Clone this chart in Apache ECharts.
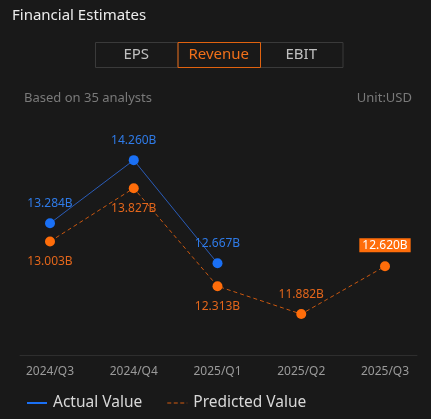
<!DOCTYPE html>
<html>
<head>
<meta charset="utf-8">
<script src="https://cdn.jsdelivr.net/npm/echarts@6/dist/echarts.min.js"></script>
<style>
  html, body { margin: 0; padding: 0; background: #191919; }
  #chart { width: 431px; height: 419px; }
</style>
</head>
<body>
<div id="chart"></div>
<script>
// data
const quarters = ['2024/Q3', '2024/Q4', '2025/Q1', '2025/Q2', '2025/Q3']
const actualValues = [13.284, 14.260, 12.667, null, null]
const predictedValues = [13.003, 13.827, 12.313, 11.882, 12.620]
const tabs = ['EPS', 'Revenue', 'EBIT']

// label placement for predicted points
const predictedLabelPos = ['bottom', 'bottom', 'bottom', 'top', 'top']

const fontFamily = '"Noto Sans", sans-serif'
const blue = '#1a70f5'
const orange = '#ff6d0a'

const fmt = (p) => p.value.toFixed(3) + 'B'

const predictedData = predictedValues.map((v, i) => {
  const item = { value: v, label: { position: predictedLabelPos[i] } }
  if (i === predictedValues.length - 1) {
    item.label.color = '#fff'
    item.label.backgroundColor = orange
    item.label.padding = [1, 3, 1, 3]
  }
  return item
})

// tab buttons
const tabGraphics = []
tabs.forEach((t, i) => {
  const active = t === 'Revenue'
  tabGraphics.push({
    type: 'rect',
    left: 95 + i * 82.5,
    top: 42,
    shape: { width: 82.5, height: 25 },
    style: { fill: 'transparent', stroke: active ? '#e0620f' : '#3a3a3a', lineWidth: 1 },
    z: active ? 11 : 10
  })
  tabGraphics.push({
    type: 'text',
    x: 95 + i * 82.5 + 41.25,
    y: 54.5,
    style: {
      text: t,
      fill: active ? '#f0701a' : '#c0c0c0',
      font: '15px ' + fontFamily,
      align: 'center',
      verticalAlign: 'middle'
    },
    z: 12
  })
})

const chart = echarts.init(document.getElementById('chart'))
chart.setOption({
  backgroundColor: '#191919',
  title: [
    { text: 'Financial Estimates', left: 7, top: 3,
      textStyle: { color: '#ececec', fontSize: 15, fontWeight: 'normal', fontFamily } },
    { text: 'Based on 35 analysts', left: 19, top: 87,
      textStyle: { color: '#7a7a7a', fontSize: 13, fontWeight: 'normal', fontFamily } },
    { text: 'Unit:USD', right: 14, top: 87,
      textStyle: { color: '#7a7a7a', fontSize: 13, fontWeight: 'normal', fontFamily } }
  ],
  graphic: tabGraphics,
  legend: {
    left: 27,
    top: 395,
    padding: 0,
    itemWidth: 20,
    itemHeight: 2,
    itemGap: 25,
    textStyle: { color: '#d8d8d8', fontSize: 15.5, fontFamily, padding: [0, 0, 0, 1] },
    data: [
      { name: 'Actual Value', icon: 'path://M0,0H20V2H0Z', itemStyle: { color: blue } },
      { name: 'Predicted Value', icon: 'path://M0,0H4V1H0Z M6.5,0H10.5V1H6.5Z M13,0H17V1H13Z M19.5,0H20V1H19.5Z',
        itemStyle: { color: '#d35c10' } }
    ]
  },
  grid: [
    { left: 50, right: 46, top: 120, height: 235 },
    { left: 20, right: 14, top: 355, height: 0 }
  ],
  xAxis: [
    {
      type: 'category',
      gridIndex: 0,
      data: quarters,
      boundaryGap: false,
      axisLine: { show: false },
      axisTick: { show: false },
      axisLabel: { color: '#9a9a9a', fontSize: 12, margin: 11, fontFamily }
    },
    {
      type: 'category',
      gridIndex: 1,
      data: quarters,
      axisLine: { lineStyle: { color: '#2e2e2e', width: 1 } },
      axisTick: { show: false },
      axisLabel: { show: false }
    }
  ],
  yAxis: [
    { type: 'value', gridIndex: 0, min: 11.25, max: 14.88, show: false },
    { type: 'value', gridIndex: 1, show: false }
  ],
  series: [
    {
      name: 'Actual Value',
      type: 'line',
      data: actualValues,
      color: blue,
      symbol: 'circle',
      symbolSize: 10,
      lineStyle: { color: '#2a5cb8', width: 1 },
      itemStyle: { color: blue },
      label: { show: true, position: 'top', distance: 9, color: '#2f7be8', fontSize: 12, fontFamily, formatter: fmt },
      z: 3
    },
    {
      name: 'Predicted Value',
      type: 'line',
      data: predictedData,
      color: '#c9570f',
      symbol: 'circle',
      symbolSize: 10,
      lineStyle: { color: '#c9570f', width: 1, type: [4, 3] },
      itemStyle: { color: orange },
      label: { show: true, distance: 9, color: '#e3661b', fontSize: 12, fontFamily, formatter: fmt },
      z: 2
    }
  ]
})
</script>
</body>
</html>
